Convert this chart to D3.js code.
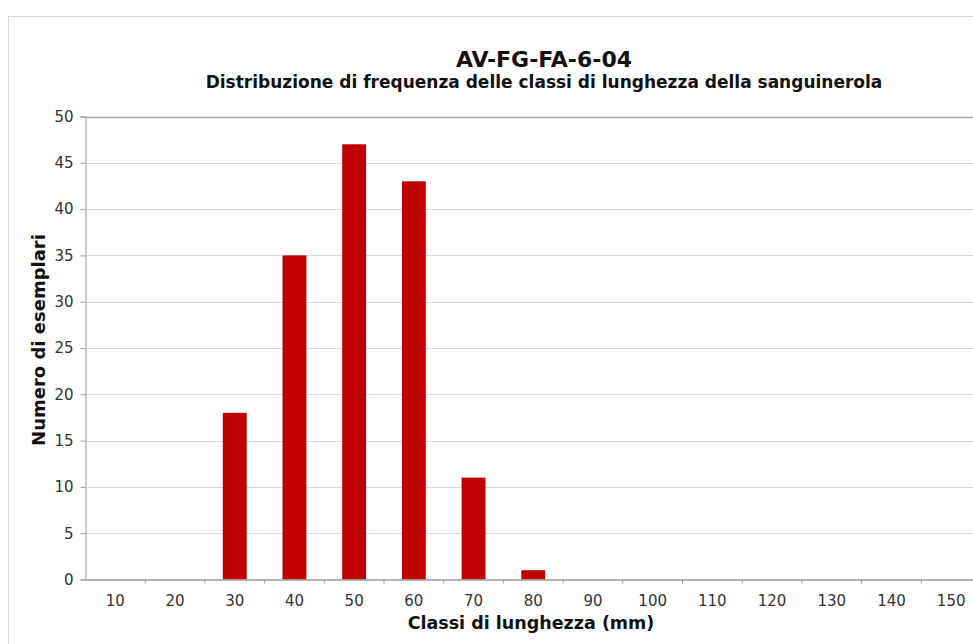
<!DOCTYPE html>
<html><head><meta charset="utf-8">
<script src="https://cdn.jsdelivr.net/npm/d3@7"></script>
<style>body{margin:0;background:#fff}svg{display:block}</style>
</head><body>
<script>
const categories = ["10","20","30","40","50","60","70","80","90","100","110","120","130","140","150"];
const counts = [0,0,18,35,47,43,11,1,0,0,0,0,0,0,0];
const yTicks = [0,5,10,15,20,25,30,35,40,45,50];
const title = "AV-FG-FA-6-04";
const subtitle = "Distribuzione di frequenza delle classi di lunghezza della sanguinerola";
const xTitle = "Classi di lunghezza (mm)";
const yTitle = "Numero di esemplari";

(function(){
const W = 973, H = 644;
const svg = d3.select("body").append("svg").attr("width", W).attr("height", H);
const font = "'DejaVu Sans', Verdana, sans-serif";

svg.append("rect").attr("x", 8.5).attr("y", 16.5).attr("width", 980).attr("height", 640)
  .attr("fill", "#fff").attr("stroke", "#b0b0b0").attr("stroke-dasharray", "1,1");

const pLeft = 85.5, pTop = 116.5, pBottom = 579.5;
const band = 59.7;
const x = d3.scaleBand().domain(categories).range([pLeft, pLeft + band * categories.length]).paddingInner(0.6).paddingOuter(0.3);
const y = d3.scaleLinear().domain([0, 50]).range([pBottom, pTop]);

// gridlines
svg.append("g").selectAll("line").data(yTicks.filter(d => d > 0)).join("line")
  .attr("x1", pLeft).attr("x2", W + 10)
  .attr("y1", d => Math.round(y(d)) + 0.5).attr("y2", d => Math.round(y(d)) + 0.5)
  .attr("stroke", d => d === 50 ? "#a8a8a8" : "#d9d9d9").attr("stroke-width", d => d === 50 ? 1.5 : 1);

// bars
svg.append("g").selectAll("rect").data(categories.map((c, i) => ({c, v: counts[i]})).filter(d => d.v > 0)).join("rect")
  .attr("x", d => x(d.c)).attr("width", x.bandwidth())
  .attr("y", d => y(d.v)).attr("height", d => y(0) - y(d.v))
  .attr("fill", "#c00000");

// y axis
const yAxis = d3.axisLeft(y).tickValues(yTicks).tickSize(5).tickPadding(7);
const gy = svg.append("g").attr("transform", `translate(${pLeft},0)`).call(yAxis);
gy.select(".domain").attr("stroke", "#999");
gy.selectAll(".tick line").attr("stroke", "#999");
gy.selectAll("text").attr("font-family", font).attr("font-size", 15).attr("fill", "#333");

// x axis
const xAxis = d3.axisBottom(x).tickSize(0).tickPadding(16);
const gx = svg.append("g").attr("transform", `translate(0,${pBottom})`).call(xAxis);
gx.select(".domain").attr("stroke", "#999").attr("stroke-width", 1.5);
gx.selectAll("text").attr("font-family", font).attr("font-size", 15).attr("fill", "#333");
// tick marks between categories
gx.append("g").selectAll("line").data(categories.slice(1)).join("line")
  .attr("x1", d => x(d) - x.step() * x.paddingInner() / 2).attr("x2", d => x(d) - x.step() * x.paddingInner() / 2)
  .attr("y1", 0).attr("y2", 4).attr("stroke", "#999");

// titles
svg.append("text").attr("x", 544).attr("y", 67).attr("text-anchor", "middle")
  .attr("font-family", font).attr("font-weight", "bold").attr("font-size", 22).attr("fill", "#111").text(title);
svg.append("text").attr("x", 544).attr("y", 88).attr("text-anchor", "middle")
  .attr("font-family", font).attr("font-weight", "bold").attr("font-size", 17).attr("fill", "#111").text(subtitle);
svg.append("text").attr("x", 531).attr("y", 629).attr("text-anchor", "middle")
  .attr("font-family", font).attr("font-weight", "bold").attr("font-size", 17.5).attr("fill", "#111").text(xTitle);
svg.append("text").attr("transform", "translate(45,340) rotate(-90)").attr("text-anchor", "middle")
  .attr("font-family", font).attr("font-weight", "bold").attr("font-size", 18).attr("fill", "#111").text(yTitle);
})();
</script>
</body></html>
